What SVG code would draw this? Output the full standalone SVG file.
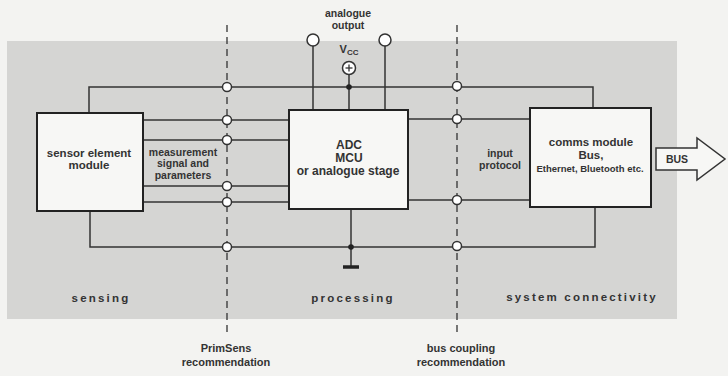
<svg xmlns="http://www.w3.org/2000/svg" width="728" height="376" viewBox="0 0 728 376">
<style>
text{font-family:"Liberation Sans",Arial,sans-serif;font-weight:bold;fill:#333;text-anchor:middle}
.box{fill:#f7f7f5;stroke:#222;stroke-width:2}
.w{fill:none;stroke:#333;stroke-width:1.5}
.dash{fill:none;stroke:#333;stroke-width:1.3;stroke-dasharray:7 5}
.t{fill:#fff;stroke:#333;stroke-width:1.5}
.lbl{font-size:11.5px;letter-spacing:2.2px}
</style>
<rect width="728" height="376" fill="#f3f3f1"/>
<rect x="7" y="41" width="670" height="278" fill="#d5d5d3"/>
<g id="connectors">
<line class="dash" x1="227" y1="25" x2="227" y2="336"/>
<line class="dash" x1="457" y1="25" x2="457" y2="336"/>
<polyline class="w" points="89,113 89,87 593,87 593,108"/>
<polyline class="w" points="90,211 90,247 595,247 595,207"/>
<line class="w" x1="143" y1="120" x2="289" y2="120"/>
<line class="w" x1="143" y1="140" x2="289" y2="140"/>
<line class="w" x1="143" y1="186" x2="289" y2="186"/>
<line class="w" x1="143" y1="202" x2="289" y2="202"/>
<line class="w" x1="408" y1="119" x2="530" y2="119"/>
<line class="w" x1="408" y1="200" x2="530" y2="200"/>
<line class="w" x1="313" y1="46" x2="313" y2="110"/>
<line class="w" x1="385" y1="46" x2="385" y2="110"/>
<line class="w" x1="349" y1="74" x2="349" y2="110"/>
<line class="w" x1="351" y1="209" x2="351" y2="267"/>
<line x1="343" y1="267" x2="359" y2="267" stroke="#222" stroke-width="3.5"/>
<circle cx="349" cy="87" r="2.8" fill="#222"/>
<circle cx="351" cy="247" r="2.8" fill="#222"/>
<circle class="t" cx="227" cy="87" r="4.5"/>
<circle class="t" cx="227" cy="120" r="4.5"/>
<circle class="t" cx="227" cy="140" r="4.5"/>
<circle class="t" cx="227" cy="186" r="4.5"/>
<circle class="t" cx="227" cy="202" r="4.5"/>
<circle class="t" cx="227" cy="247" r="4.5"/>
<circle class="t" cx="457" cy="86" r="4.5"/>
<circle class="t" cx="457" cy="119" r="4.5"/>
<circle class="t" cx="457" cy="200" r="4.5"/>
<circle class="t" cx="457" cy="246" r="4.5"/>
</g>
<g id="analogue-output">
<circle class="t" cx="313" cy="40" r="6"/>
<circle class="t" cx="385" cy="40" r="6"/>
<text x="348" y="17" font-size="10.5">analogue</text>
<text x="348" y="29" font-size="10.5">output</text>
</g>
<g id="vcc">
<circle class="t" cx="349" cy="68" r="6.5"/>
<line x1="345.5" y1="68" x2="352.5" y2="68" stroke="#333" stroke-width="1.3"/>
<line x1="349" y1="64.5" x2="349" y2="71.5" stroke="#333" stroke-width="1.3"/>
<text x="349" y="53" font-size="11">V<tspan font-size="8" dy="2">CC</tspan></text>
</g>
<g id="sensor">
<rect class="box" x="37" y="113" width="106" height="98"/>
<text x="89" y="157" font-size="11.5">sensor element</text>
<text x="89" y="169" font-size="11.5">module</text>
</g>
<g id="measurement">
<text x="183" y="156" font-size="10.5">measurement</text>
<text x="183" y="167" font-size="10.5">signal and</text>
<text x="183" y="179" font-size="10.5">parameters</text>
</g>
<g id="adc">
<rect class="box" x="289" y="110" width="119" height="99"/>
<text x="349" y="149" font-size="12">ADC</text>
<text x="349" y="162" font-size="12">MCU</text>
<text x="348" y="175" font-size="12">or analogue stage</text>
</g>
<g id="input-protocol">
<text x="500" y="157" font-size="10.5">input</text>
<text x="500" y="169" font-size="10.5">protocol</text>
</g>
<g id="comms">
<rect class="box" x="530" y="108" width="121" height="99"/>
<text x="591" y="146" font-size="11.5">comms module</text>
<text x="591" y="159" font-size="11.5">Bus,</text>
<text x="590" y="172" font-size="9.5" style="font-weight:600">Ethernet, Bluetooth etc.</text>
</g>
<g id="bus">
<polygon points="656,148 697,148 697,138 725,159 697,180 697,170 656,170" fill="#f7f7f5" stroke="#333" stroke-width="1.5"/>
<text x="677" y="163" font-size="10.5">BUS</text>
</g>
<g id="labels">
<text class="lbl" x="101" y="302">sensing</text>
<text class="lbl" x="353" y="302">processing</text>
<text class="lbl" x="582" y="301">system connectivity</text>
<text x="226" y="352" font-size="11">PrimSens</text>
<text x="226" y="366" font-size="11">recommendation</text>
<text x="461" y="352" font-size="11">bus coupling</text>
<text x="461" y="366" font-size="11">recommendation</text>
</g>
</svg>
